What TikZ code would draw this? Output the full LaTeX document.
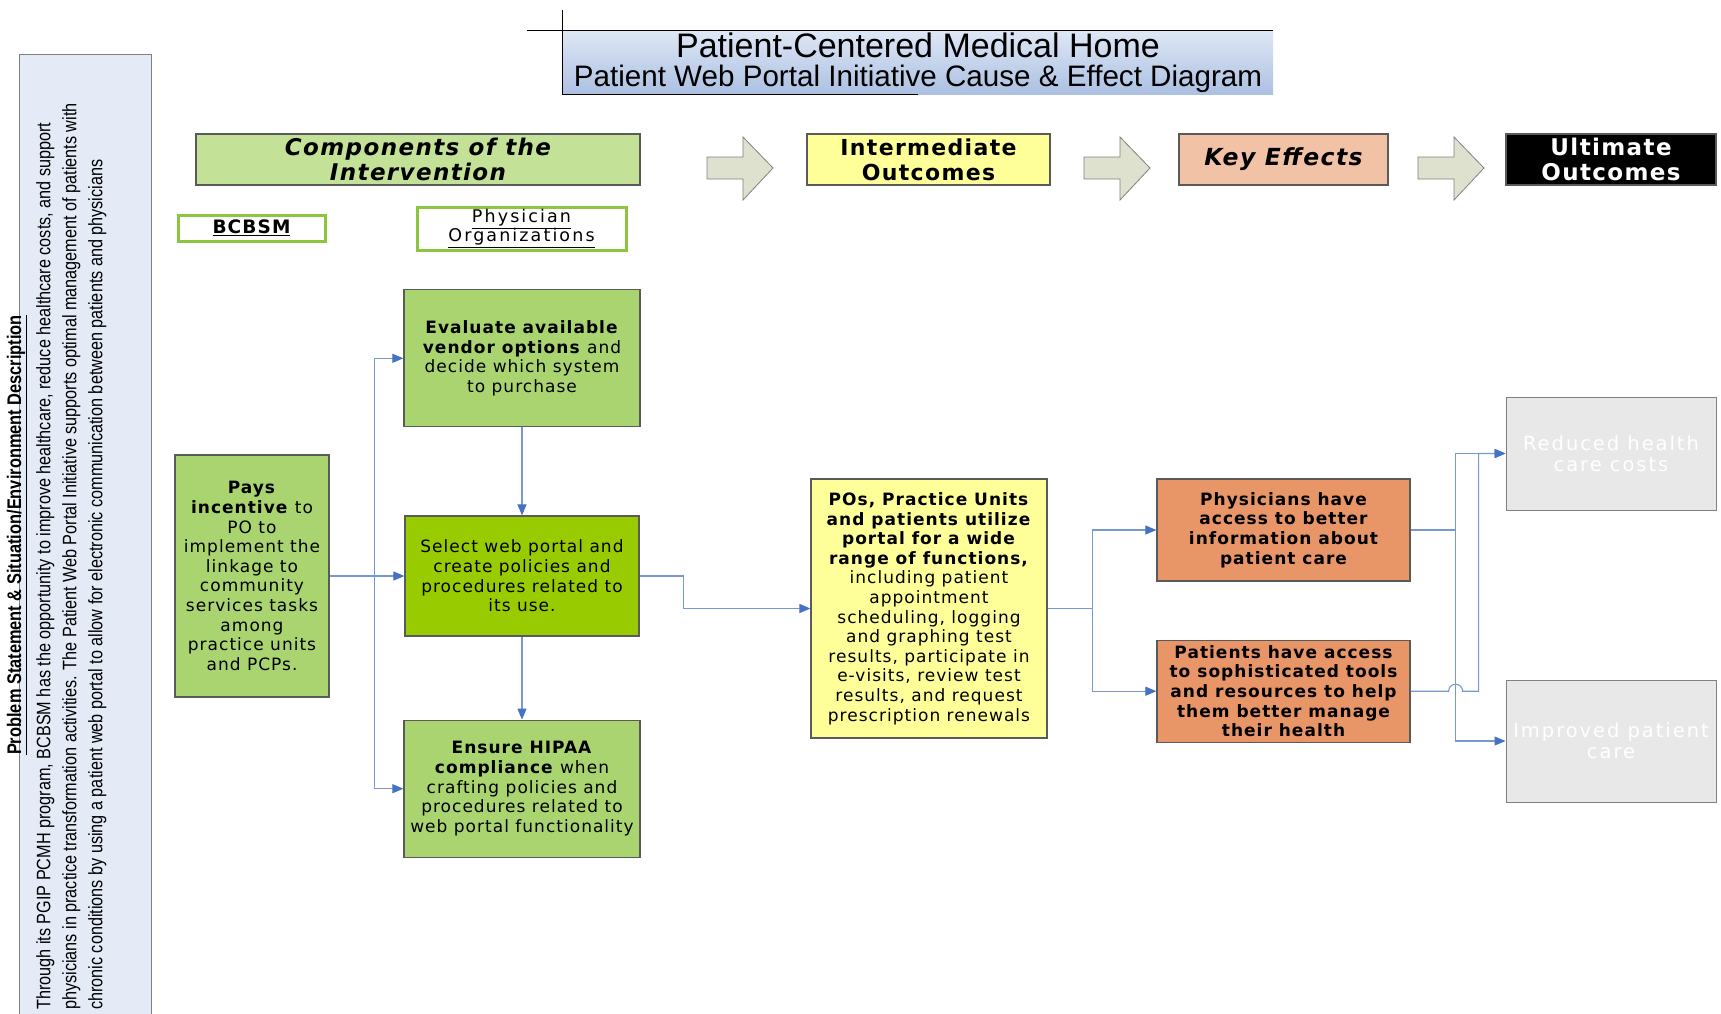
\documentclass[tikz,border=0pt]{standalone}
\usepackage{fontspec}
\newfontfamily\boxfont[LetterSpace=6]{DejaVu Sans}
\newfontfamily\titlefont{Liberation Sans}
\newfontfamily\narrowfont[FakeStretch=0.832]{Liberation Sans}
\usepackage{color}
\definecolor{myheadgreen}{RGB}{196,225,152}
\definecolor{mygreen}{RGB}{169,212,111}
\definecolor{mylimegreen}{RGB}{153,204,0}
\definecolor{myyellow}{RGB}{255,255,153}
\definecolor{mypeach}{RGB}{242,194,167}
\definecolor{myorange}{RGB}{232,149,104}
\definecolor{mygray}{RGB}{232,232,232}
\definecolor{myarrowfill}{RGB}{221,225,206}
\definecolor{mypanel}{RGB}{228,235,247}
\definecolor{mytitletop}{RGB}{222,231,245}
\definecolor{mytitlebottom}{RGB}{172,192,226}
\definecolor{mylabelgreen}{RGB}{140,198,63}
\definecolor{mylink}{RGB}{120,152,212}
\definecolor{mytip}{RGB}{68,114,196}
\definecolor{myborder}{RGB}{90,90,90}
\usepackage{tikz}
\usetikzlibrary{arrows.meta,positioning,calc}
\tikzstyle{box}=[draw=myborder,line width=1.2pt,align=center,inner sep=2pt,font=\boxfont\fontsize{17}{19.6}\selectfont]

\begin{document}
\begin{tikzpicture}[
  x=1pt, y=-1pt,
  header/.style={box, minimum height=51pt, font=\boxfont\bfseries\fontsize{22}{25}\selectfont},
  labelbox/.style={box, draw=mylabelgreen, line width=3pt, fill=white},
  greenbox/.style={box, fill=mygreen, minimum width=236pt, minimum height=137pt},
  yellowbox/.style={box, fill=myyellow, minimum width=236pt, minimum height=259pt},
  orangebox/.style={box, fill=myorange, minimum width=253pt, minimum height=102pt, font=\boxfont\bfseries\fontsize{17}{19.6}\selectfont},
  graybox/.style={box, draw=gray, line width=1pt, fill=mygray, text=white, minimum width=210pt,
    font=\boxfont\fontsize{19.5}{21}\selectfont\addfontfeatures{LetterSpace=10}},
  blockarrow/.style={draw=gray, fill=myarrowfill, line width=0.8pt, line join=miter},
  conn/.style={draw=mylink, line width=1.1pt},
  tip/.style={-{Triangle[length=11pt,width=9pt,color=mytip]}}
]
\useasboundingbox (0,0) rectangle (1721,1013);

\node[draw=gray, line width=1pt, fill=mypanel, anchor=north west,
  minimum width=132pt, minimum height=980pt] (panel) at (19,54) {};
\node[rotate=90, inner sep=0pt, font=\narrowfont\bfseries\fontsize{19.7}{22}\selectfont]
  (probhead) at (17,535) {\underline{Problem Statement \& Situation/Environment Description}};
\node[rotate=90, anchor=north west, inner sep=0pt, align=left,
  font=\narrowfont\fontsize{19.5}{26}\selectfont] (probtext) at (36,1010)
  {Through its PGIP PCMH program, BCBSM has the opportunity to improve healthcare, reduce healthcare costs, and support\\
   physicians in practice transformation activities. The Patient Web Portal Initiative supports optimal management of patients with\\
   chronic conditions by using a patient web portal to allow for electronic communication between patients and physicians};

\node[top color=mytitletop, bottom color=mytitlebottom, minimum width=710pt,
  minimum height=63pt, inner sep=0pt, align=center,
  font=\titlefont\fontsize{29.6}{29}\selectfont] (title) at (918,62.5)
  {{\fontsize{34}{29}\selectfont Patient-Centered Medical Home}\\
   Patient Web Portal Initiative Cause \& Effect Diagram};
\draw[line width=1pt] ($(title.north west)+(-36,0)$) -- (title.north east);
\draw[line width=1pt] ($(title.north west)+(0,-21)$) -- (title.south west) -- (title.south);

\node[header, fill=myheadgreen, minimum width=444pt, font=\boxfont\bfseries\itshape\fontsize{23}{25}\selectfont]
  (comp) at (418,159.5) {Components of the\\Intervention};
\node[header, fill=myyellow, minimum width=243pt] (inter) at (928.5,159.5) {Intermediate\\Outcomes};
\node[header, fill=mypeach, minimum width=209pt, font=\boxfont\bfseries\itshape\fontsize{23.5}{25}\selectfont]
  (keyeff) at (1283.5,159.5) {Key Effects};
\node[header, fill=black, text=white, minimum width=210pt, font=\boxfont\bfseries\fontsize{23}{25}\selectfont]
  (ult) at (1611,159.5) {Ultimate\\Outcomes};
\foreach \ax in {707,1084,1418}
  \draw[blockarrow] (\ax,157) -- ++(36,0) -- ++(0,-20) -- ++(30,31) -- ++(-30,32) -- ++(0,-21) -- ++(-36,0) -- cycle;

\node[labelbox, minimum width=147pt, minimum height=26pt, font=\boxfont\bfseries\fontsize{18.5}{19}\selectfont]
  (bcbsm) at (251.5,228) {\underline{BCBSM}};
\node[labelbox, minimum width=209pt, minimum height=43pt, font=\boxfont\fontsize{17.5}{19}\selectfont\addfontfeatures{LetterSpace=12}]
  (porg) at (521.5,228.5) {\underline{Physician}\\\underline{Organizations}};

\node[greenbox, minimum width=154pt, minimum height=242pt] (pays) at (252,576)
  {\textbf{Pays}\\\textbf{incentive} to\\PO to\\implement the\\linkage to\\community\\services tasks\\among\\practice units\\and PCPs.};
\node[greenbox, fill=mylimegreen, minimum width=234pt, minimum height=120pt] (sel) at (522,576)
  {Select web portal and\\create policies and\\procedures related to\\its use.};
\node[greenbox, above=88pt of sel] (eval)
  {\textbf{Evaluate available}\\\textbf{vendor options} and\\decide which system\\to purchase};
\node[greenbox, below=83pt of sel] (hipaa)
  {\textbf{Ensure HIPAA}\\\textbf{compliance} when\\crafting policies and\\procedures related to\\web portal functionality};

\node[yellowbox] (pos) at (929,608.5)
  {\textbf{POs, Practice Units}\\\textbf{and patients utilize}\\\textbf{portal for a wide}\\\textbf{range of functions,}\\including patient\\appointment\\scheduling, logging\\and graphing test\\results, participate in\\e-visits, review test\\results, and request\\prescription renewals};

\node[orangebox] (physic) at (1283.5,530)
  {Physicians have\\access to better\\information about\\patient care};
\node[orangebox, below=58pt of physic] (pats)
  {Patients have access\\to sophisticated tools\\and resources to help\\them better manage\\their health};

\node[graybox, minimum height=113pt] (reduced) at (1611,453.5) {Reduced health\\care costs};
\node[graybox, minimum height=122pt] (improved) at (1611,741) {Improved patient\\care};

\draw[conn,tip] (pays.east) -- (sel.west);
\coordinate[left=30pt of sel.west] (bus);
\draw[conn,tip] (bus) |- (eval.west);
\draw[conn,tip] (bus) |- (hipaa.west);
\draw[conn,tip] (eval.south) -- (sel.north);
\draw[conn,tip] (sel.south) -- (hipaa.north);
\draw[conn,tip] (sel.east) -- ++(44,0) |- (pos.west);
\draw[conn,tip] (pos.east) -- ++(45,0) coordinate (split1) |- (physic.west);
\draw[conn,tip] (split1) |- (pats.west);
\draw[conn,tip] (physic.east) -- ++(45,0) coordinate (split2) |- (reduced.west);
\draw[conn,tip] (split2) |- (improved.west);
\draw[conn,tip] (pats.east) -- ($(split2 |- pats.east)+(-7,0)$) arc[start angle=180,end angle=0,radius=7pt]
  -- ++(16,0) |- (reduced.west);
\end{tikzpicture}
\end{document}
